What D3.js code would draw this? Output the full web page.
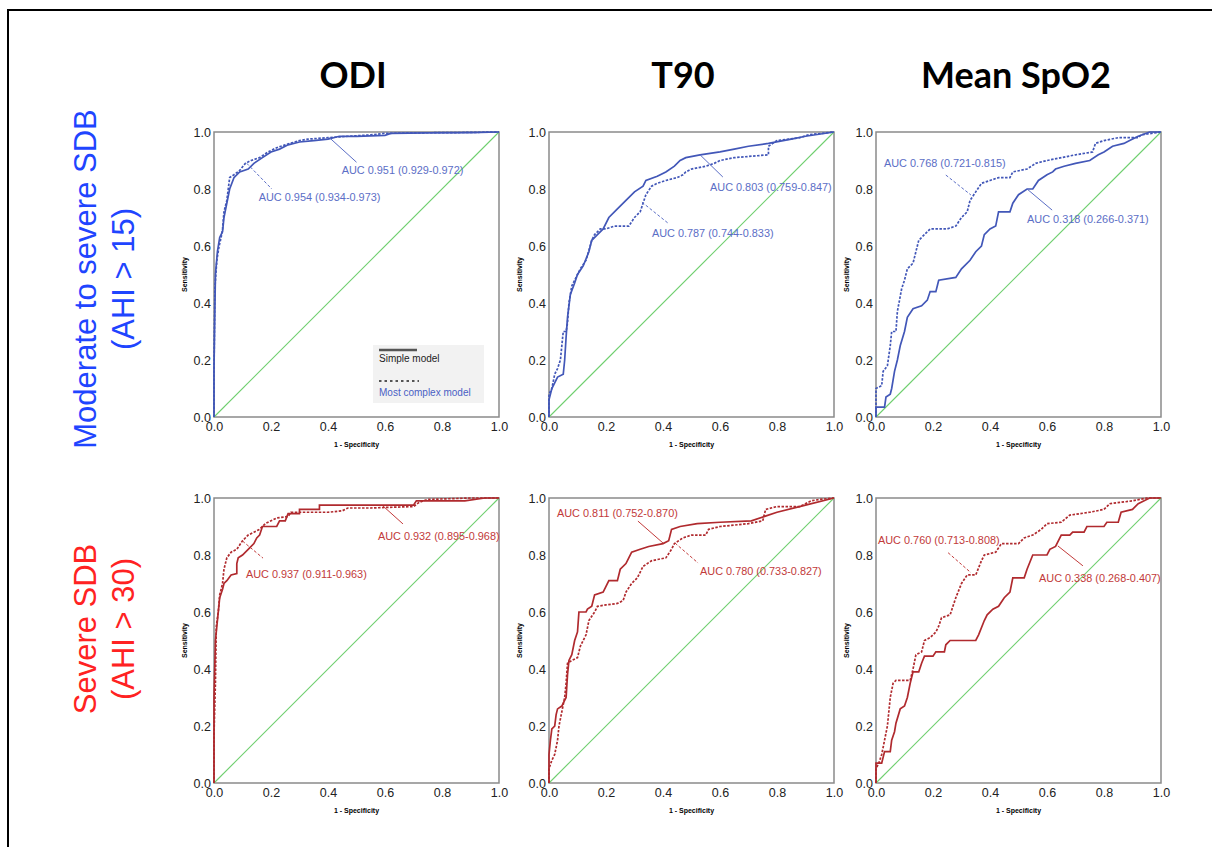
<!DOCTYPE html>
<html>
<head>
<meta charset="utf-8">
<script src="https://cdn.jsdelivr.net/npm/d3@7"></script>
<style>
  body { margin: 0; background: #fff; }
  .tick text { font-family: "Liberation Sans", Arial, sans-serif; font-size: 12.5px; fill: #222; }
  .domain { display: none; }
</style>
</head>
<body>
<div id="chart"></div>
<script>
// column / row headers
var colTitles = ["ODI", "T90", "Mean SpO2"];
var rowLabels = [["Moderate to severe SDB", "(AHI > 15)"], ["Severe SDB", "(AHI > 30)"]];
var tickValues = [0, 0.2, 0.4, 0.6, 0.8, 1.0];
var legendLabels = ["Simple model", "Most complex model"];

// ROC curves, [1 - specificity, sensitivity]
var odi15Simple = [[0,0],[0,0.17],[0.005,0.5],[0.012,0.58],[0.02,0.63],[0.03,0.65],[0.035,0.7],[0.045,0.75],[0.055,0.8],[0.07,0.84],[0.09,0.86],[0.12,0.87],[0.14,0.89],[0.17,0.91],[0.2,0.93],[0.23,0.94],[0.26,0.955],[0.3,0.965],[0.35,0.97],[0.4,0.975],[0.44,0.985],[0.5,0.985],[0.6,0.988],[0.62,0.995],[0.75,0.997],[0.9,0.998],[1,1]];
var odi15Complex = [[0,0],[0,0.15],[0.003,0.45],[0.01,0.55],[0.018,0.6],[0.025,0.63],[0.03,0.66],[0.035,0.72],[0.045,0.76],[0.055,0.84],[0.07,0.85],[0.09,0.865],[0.11,0.89],[0.13,0.9],[0.16,0.91],[0.19,0.93],[0.22,0.945],[0.25,0.955],[0.3,0.97],[0.33,0.975],[0.4,0.98],[0.47,0.985],[0.55,0.99],[0.6,0.995],[0.7,0.997],[0.85,0.998],[1,1]];

var t9015Simple = [[0,0],[0,0.06],[0.01,0.1],[0.02,0.12],[0.03,0.14],[0.05,0.15],[0.055,0.2],[0.06,0.28],[0.065,0.35],[0.075,0.43],[0.09,0.47],[0.1,0.5],[0.12,0.53],[0.14,0.58],[0.15,0.62],[0.17,0.64],[0.19,0.66],[0.21,0.7],[0.24,0.73],[0.27,0.76],[0.3,0.79],[0.33,0.81],[0.34,0.83],[0.38,0.845],[0.41,0.86],[0.44,0.88],[0.46,0.9],[0.48,0.91],[0.53,0.92],[0.6,0.93],[0.65,0.94],[0.7,0.95],[0.77,0.96],[0.85,0.975],[0.9,0.985],[1,1]];
var t9015Complex = [[0,0],[0,0.08],[0.01,0.1],[0.02,0.15],[0.03,0.17],[0.04,0.2],[0.05,0.3],[0.06,0.3],[0.065,0.33],[0.07,0.4],[0.08,0.46],[0.1,0.5],[0.11,0.52],[0.13,0.55],[0.15,0.62],[0.16,0.64],[0.18,0.66],[0.2,0.66],[0.23,0.67],[0.28,0.67],[0.3,0.7],[0.32,0.72],[0.33,0.75],[0.34,0.78],[0.36,0.81],[0.38,0.82],[0.41,0.83],[0.45,0.84],[0.47,0.85],[0.48,0.86],[0.5,0.87],[0.55,0.88],[0.58,0.89],[0.6,0.9],[0.65,0.91],[0.77,0.92],[0.77,0.95],[0.8,0.97],[0.88,0.98],[0.91,0.99],[1,1]];

var spo215Simple = [[0,0],[0,0.035],[0.03,0.035],[0.035,0.07],[0.05,0.08],[0.055,0.1],[0.065,0.16],[0.075,0.2],[0.085,0.25],[0.1,0.3],[0.11,0.35],[0.13,0.38],[0.16,0.39],[0.18,0.41],[0.19,0.44],[0.21,0.44],[0.22,0.48],[0.28,0.49],[0.3,0.52],[0.33,0.55],[0.35,0.58],[0.37,0.6],[0.38,0.64],[0.4,0.66],[0.42,0.67],[0.43,0.72],[0.47,0.72],[0.48,0.75],[0.5,0.78],[0.53,0.8],[0.55,0.8],[0.57,0.83],[0.6,0.85],[0.62,0.86],[0.63,0.87],[0.66,0.88],[0.7,0.89],[0.75,0.9],[0.78,0.92],[0.8,0.93],[0.83,0.95],[0.87,0.96],[0.89,0.97],[0.92,0.985],[0.96,1],[1,1]];
var spo215Complex = [[0,0],[0,0.1],[0.02,0.11],[0.025,0.16],[0.04,0.18],[0.05,0.25],[0.055,0.3],[0.07,0.3],[0.075,0.37],[0.09,0.45],[0.1,0.48],[0.11,0.52],[0.13,0.54],[0.14,0.58],[0.15,0.62],[0.17,0.64],[0.19,0.66],[0.25,0.66],[0.28,0.67],[0.3,0.7],[0.32,0.72],[0.33,0.76],[0.35,0.79],[0.37,0.82],[0.4,0.83],[0.43,0.84],[0.47,0.84],[0.48,0.86],[0.53,0.87],[0.56,0.89],[0.6,0.9],[0.7,0.92],[0.76,0.93],[0.77,0.96],[0.8,0.97],[0.85,0.98],[0.92,0.98],[0.93,0.99],[1,1]];

var odi30Simple = [[0,0],[0,0.3],[0.005,0.5],[0.01,0.55],[0.015,0.6],[0.02,0.65],[0.03,0.68],[0.035,0.7],[0.045,0.71],[0.06,0.73],[0.08,0.735],[0.08,0.77],[0.085,0.79],[0.1,0.8],[0.12,0.82],[0.14,0.84],[0.15,0.86],[0.16,0.87],[0.17,0.9],[0.22,0.9],[0.23,0.92],[0.25,0.92],[0.26,0.945],[0.3,0.945],[0.3,0.96],[0.37,0.96],[0.37,0.975],[0.57,0.975],[0.7,0.975],[0.71,0.99],[0.88,0.99],[0.95,1],[1,1]];
var odi30Complex = [[0,0],[0,0.17],[0.005,0.35],[0.008,0.55],[0.015,0.6],[0.02,0.66],[0.03,0.7],[0.035,0.75],[0.045,0.79],[0.06,0.81],[0.08,0.82],[0.1,0.85],[0.12,0.87],[0.14,0.88],[0.16,0.89],[0.18,0.91],[0.2,0.92],[0.22,0.93],[0.26,0.935],[0.27,0.95],[0.35,0.95],[0.4,0.95],[0.45,0.955],[0.47,0.965],[0.55,0.965],[0.7,0.97],[0.72,0.985],[0.75,0.995],[0.9,1],[1,1]];

var t9030Simple = [[0,0],[0,0.1],[0.005,0.15],[0.01,0.19],[0.02,0.2],[0.025,0.24],[0.03,0.26],[0.045,0.27],[0.05,0.28],[0.06,0.3],[0.065,0.38],[0.07,0.43],[0.08,0.45],[0.09,0.5],[0.1,0.53],[0.105,0.6],[0.13,0.6],[0.135,0.61],[0.15,0.62],[0.16,0.66],[0.19,0.67],[0.2,0.69],[0.21,0.71],[0.24,0.71],[0.25,0.75],[0.27,0.77],[0.28,0.79],[0.29,0.81],[0.32,0.82],[0.35,0.83],[0.4,0.84],[0.42,0.85],[0.43,0.89],[0.46,0.9],[0.52,0.91],[0.6,0.915],[0.71,0.92],[0.8,0.95],[0.9,0.975],[1,1]];
var t9030Complex = [[0,0],[0,0.05],[0.01,0.08],[0.02,0.1],[0.03,0.15],[0.035,0.2],[0.045,0.25],[0.055,0.3],[0.06,0.35],[0.065,0.42],[0.08,0.43],[0.1,0.44],[0.11,0.48],[0.13,0.52],[0.14,0.57],[0.16,0.6],[0.17,0.62],[0.2,0.625],[0.24,0.63],[0.26,0.64],[0.27,0.67],[0.29,0.7],[0.31,0.72],[0.33,0.76],[0.36,0.78],[0.41,0.79],[0.43,0.82],[0.44,0.84],[0.47,0.86],[0.5,0.87],[0.55,0.87],[0.56,0.89],[0.6,0.9],[0.7,0.91],[0.75,0.92],[0.76,0.96],[0.8,0.97],[0.88,0.97],[0.92,0.99],[0.95,0.995],[1,1]];

var spo230Simple = [[0,0],[0,0.07],[0.02,0.07],[0.025,0.09],[0.03,0.11],[0.05,0.11],[0.055,0.15],[0.065,0.18],[0.07,0.21],[0.085,0.26],[0.1,0.27],[0.11,0.3],[0.12,0.35],[0.13,0.39],[0.15,0.39],[0.16,0.42],[0.17,0.445],[0.2,0.445],[0.21,0.46],[0.24,0.46],[0.245,0.485],[0.26,0.5],[0.35,0.5],[0.36,0.52],[0.38,0.57],[0.39,0.59],[0.41,0.61],[0.43,0.62],[0.45,0.65],[0.47,0.67],[0.48,0.72],[0.52,0.72],[0.53,0.75],[0.55,0.8],[0.6,0.8],[0.61,0.82],[0.63,0.83],[0.65,0.87],[0.68,0.87],[0.69,0.88],[0.73,0.88],[0.74,0.9],[0.8,0.9],[0.81,0.915],[0.85,0.915],[0.86,0.95],[0.9,0.96],[0.92,0.98],[0.96,1],[1,1]];
var spo230Complex = [[0,0],[0,0.05],[0.01,0.07],[0.02,0.1],[0.03,0.15],[0.04,0.2],[0.05,0.3],[0.06,0.35],[0.07,0.36],[0.12,0.36],[0.13,0.4],[0.14,0.45],[0.16,0.46],[0.17,0.5],[0.19,0.51],[0.21,0.53],[0.22,0.55],[0.23,0.58],[0.26,0.59],[0.27,0.62],[0.28,0.65],[0.3,0.7],[0.32,0.73],[0.35,0.73],[0.37,0.78],[0.38,0.8],[0.42,0.81],[0.44,0.84],[0.5,0.84],[0.52,0.86],[0.55,0.87],[0.58,0.89],[0.6,0.91],[0.65,0.915],[0.68,0.94],[0.75,0.95],[0.8,0.96],[0.82,0.98],[0.9,0.99],[0.95,1],[1,1]];

// AUC labels: text, model, text anchor point, leader line from/to (data units)
var odi15Notes = [
  {text: "AUC 0.951 (0.929-0.972)", model: "simple", at: [0.448, 0.866], from: [0.405, 0.98], to: [0.5, 0.894]},
  {text: "AUC 0.954 (0.934-0.973)", model: "complex", at: [0.157, 0.771], from: [0.115, 0.89], to: [0.203, 0.80]}
];
var t9015Notes = [
  {text: "AUC 0.803 (0.759-0.847)", model: "simple", at: [0.565, 0.807], from: [0.53, 0.92], to: [0.61, 0.842]},
  {text: "AUC 0.787 (0.744-0.833)", model: "complex", at: [0.361, 0.646], from: [0.326, 0.754], to: [0.418, 0.68]}
];
var spo215Notes = [
  {text: "AUC 0.768 (0.721-0.815)", model: "complex", at: [0.028, 0.891], from: [0.245, 0.849], to: [0.333, 0.779]},
  {text: "AUC 0.318 (0.266-0.371)", model: "simple", at: [0.53, 0.695], from: [0.53, 0.80], to: [0.618, 0.726]}
];
var odi30Notes = [
  {text: "AUC 0.932 (0.895-0.968)", model: "simple", at: [0.575, 0.867], from: [0.593, 0.972], to: [0.663, 0.909]},
  {text: "AUC 0.937 (0.911-0.963)", model: "complex", at: [0.112, 0.733], from: [0.10, 0.849], to: [0.172, 0.789]}
];
var t9030Notes = [
  {text: "AUC 0.811 (0.752-0.870)", model: "simple", at: [0.028, 0.947], from: [0.312, 0.919], to: [0.40, 0.842]},
  {text: "AUC 0.780 (0.733-0.827)", model: "complex", at: [0.53, 0.744], from: [0.442, 0.842], to: [0.523, 0.772]}
];
var spo230Notes = [
  {text: "AUC 0.760 (0.713-0.808)", model: "complex", at: [0.007, 0.853], from: [0.253, 0.808], to: [0.333, 0.738]},
  {text: "AUC 0.338 (0.268-0.407)", model: "simple", at: [0.572, 0.72], from: [0.638, 0.832], to: [0.726, 0.762]}
];

var panels = [
  {row: 0, col: 0, simple: odi15Simple, complex: odi15Complex, notes: odi15Notes, legend: true},
  {row: 0, col: 1, simple: t9015Simple, complex: t9015Complex, notes: t9015Notes},
  {row: 0, col: 2, simple: spo215Simple, complex: spo215Complex, notes: spo215Notes},
  {row: 1, col: 0, simple: odi30Simple, complex: odi30Complex, notes: odi30Notes},
  {row: 1, col: 1, simple: t9030Simple, complex: t9030Complex, notes: t9030Notes},
  {row: 1, col: 2, simple: spo230Simple, complex: spo230Complex, notes: spo230Notes}
];

var W = 1212, H = 847;
var size = 285;
var colX = [214, 549, 876];
var rowY = [132, 498];
var titleX = [353, 683, 1016];
var rowLabelY = [279, 629];
var lineColor = ["#4257b8", "#b02a2e"];
var noteColor = ["#5b6ec6", "#c23a3a"];
var rowColor = ["#1f45ff", "#ff2222"];

var svg = d3.select("#chart").append("svg")
    .attr("width", W)
    .attr("height", H);

// outer frame
svg.append("rect")
    .attr("x", 8).attr("y", 10)
    .attr("width", W + 20).attr("height", H + 20)
    .attr("fill", "none")
    .attr("stroke", "#000")
    .attr("stroke-width", 2);

// column titles
svg.selectAll(".colTitle")
    .data(colTitles)
    .enter()
    .append("text")
    .attr("class", "colTitle")
    .attr("x", function(d, i) { return titleX[i]; })
    .attr("y", 88)
    .attr("text-anchor", "middle")
    .style("font-family", "Lato, 'Open Sans', sans-serif")
    .style("font-weight", "bold")
    .style("font-size", "36px")
    .text(function(d) { return d; });

// row labels
rowLabels.forEach(function(lines, r) {
    var g = svg.append("g")
        .attr("transform", "translate(0," + rowLabelY[r] + ") rotate(-90)");
    lines.forEach(function(t, k) {
        g.append("text")
            .attr("x", 0)
            .attr("y", k == 0 ? 96 : 134)
            .attr("text-anchor", "middle")
            .style("font-family", "'Liberation Sans', Arial, sans-serif")
            .style("font-size", "31px")
            .style("fill", rowColor[r])
            .text(t);
    });
});

var x = d3.scaleLinear().domain([0, 1]).range([0, size]);
var y = d3.scaleLinear().domain([0, 1]).range([size, 0]);
var line = d3.line()
    .x(function(d) { return x(d[0]); })
    .y(function(d) { return y(d[1]); });

panels.forEach(function(p) {
    var g = svg.append("g")
        .attr("transform", "translate(" + colX[p.col] + "," + rowY[p.row] + ")");

    // axes
    g.append("g")
        .attr("transform", "translate(0," + size + ")")
        .call(d3.axisBottom(x).tickValues(tickValues).tickFormat(d3.format(".1f")).tickSize(0).tickPadding(5));
    g.append("g")
        .call(d3.axisLeft(y).tickValues(tickValues).tickFormat(d3.format(".1f")).tickSize(0).tickPadding(3));

    // frame
    g.append("rect")
        .attr("x", 0).attr("y", 0)
        .attr("width", size).attr("height", size)
        .attr("fill", "none")
        .attr("stroke", "#8a8a8a")
        .attr("stroke-width", 1.5);

    // axis titles
    g.append("text")
        .attr("x", size / 2)
        .attr("y", size + 30)
        .attr("text-anchor", "middle")
        .style("font-family", "'Liberation Sans', Arial, sans-serif")
        .style("font-weight", "bold")
        .style("font-size", "7px")
        .text("1 - Specificity");
    g.append("text")
        .attr("transform", "translate(-27," + (size / 2) + ") rotate(-90)")
        .attr("text-anchor", "middle")
        .style("font-family", "'Liberation Sans', Arial, sans-serif")
        .style("font-weight", "bold")
        .style("font-size", "7px")
        .text("Sensitivity");

    // reference diagonal
    g.append("line")
        .attr("x1", x(0)).attr("y1", y(0))
        .attr("x2", x(1)).attr("y2", y(1))
        .attr("stroke", "#6fcf6f")
        .attr("stroke-width", 1.1);

    // curves
    g.append("path")
        .datum(p.complex)
        .attr("d", line)
        .attr("fill", "none")
        .attr("stroke", lineColor[p.row])
        .attr("stroke-width", 1.7)
        .attr("stroke-dasharray", "2.5,1.5");
    g.append("path")
        .datum(p.simple)
        .attr("d", line)
        .attr("fill", "none")
        .attr("stroke", lineColor[p.row])
        .attr("stroke-width", 1.7);

    // AUC notes
    p.notes.forEach(function(n) {
        g.append("line")
            .attr("x1", x(n.from[0])).attr("y1", y(n.from[1]))
            .attr("x2", x(n.to[0])).attr("y2", y(n.to[1]))
            .attr("stroke", noteColor[p.row])
            .attr("stroke-width", 1)
            .attr("stroke-dasharray", n.model == "complex" ? "3,2" : null);
        g.append("text")
            .attr("x", x(n.at[0]))
            .attr("y", y(n.at[1]))
            .attr("dy", "0.35em")
            .style("font-family", "'Liberation Sans', Arial, sans-serif")
            .style("font-size", "10.9px")
            .style("fill", noteColor[p.row])
            .text(n.text);
    });

    if (p.legend) {
        var lg = g.append("g").attr("transform", "translate(159,213)");
        lg.append("rect")
            .attr("width", 111).attr("height", 58)
            .attr("fill", "#f2f2f2");
        lg.append("line")
            .attr("x1", 6).attr("x2", 44).attr("y1", 5).attr("y2", 5)
            .attr("stroke", "#555").attr("stroke-width", 2.5);
        lg.append("text")
            .attr("x", 6).attr("y", 17)
            .style("font-family", "'Liberation Sans', Arial, sans-serif")
            .style("font-size", "10px")
            .style("fill", "#222")
            .text(legendLabels[0]);
        lg.append("line")
            .attr("x1", 6).attr("x2", 46).attr("y1", 36).attr("y2", 36)
            .attr("stroke", "#555").attr("stroke-width", 2)
            .attr("stroke-dasharray", "2.5,3");
        lg.append("text")
            .attr("x", 6).attr("y", 51)
            .style("font-family", "'Liberation Sans', Arial, sans-serif")
            .style("font-size", "10px")
            .style("fill", "#4a5fc4")
            .text(legendLabels[1]);
    }
});
</script>
</body>
</html>
